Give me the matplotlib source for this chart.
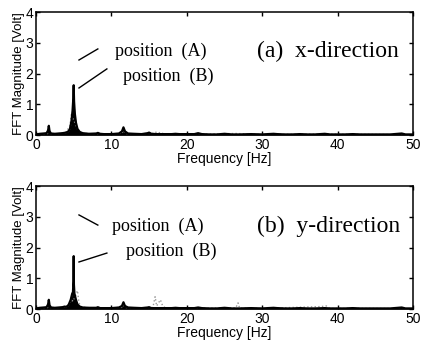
import numpy as np
import matplotlib.pyplot as plt

# FFT spectra: position (B) black, position (A) grey dotted
fx_b = [0, 0.5, 1.0, 1.4, 1.6, 1.7, 1.8, 2.0, 2.5, 3.0, 3.5, 4.0, 4.3, 4.5, 4.7, 4.85,
        4.95, 5.0, 5.05, 5.15, 5.3, 5.5, 5.8, 6.2, 7.0, 8.0, 8.2, 8.5, 9.0, 10.0, 10.5,
        11.0, 11.4, 11.6, 11.8, 12.2, 13.0, 14.0, 14.8, 15.0, 15.3, 16.0, 17.0, 18.0,
        18.5, 19.0, 20.0, 21.0, 21.5, 22.0, 23.0, 24.0, 25.0, 26.0, 27.0, 28.5, 30.0,
        31.5, 32.0, 33.0, 34.0, 35.0, 36.0, 37.0, 38.3, 39.0, 40.0, 41.0, 42.0, 43.0,
        44.0, 45.0, 46.0, 47.0, 48.5, 49.0, 50.0]
mx_b = [0.02, 0.04, 0.05, 0.06, 0.15, 0.30, 0.12, 0.05, 0.04, 0.05, 0.06, 0.08, 0.12,
        0.20, 0.45, 0.80, 1.20, 1.62, 1.10, 0.70, 0.40, 0.20, 0.10, 0.06, 0.04, 0.05,
        0.07, 0.04, 0.03, 0.03, 0.04, 0.05, 0.12, 0.25, 0.12, 0.05, 0.04, 0.03, 0.06,
        0.08, 0.04, 0.03, 0.03, 0.03, 0.04, 0.03, 0.03, 0.03, 0.06, 0.03, 0.02, 0.02,
        0.04, 0.02, 0.02, 0.03, 0.02, 0.04, 0.03, 0.02, 0.02, 0.03, 0.02, 0.02, 0.04,
        0.02, 0.02, 0.02, 0.03, 0.02, 0.02, 0.02, 0.02, 0.02, 0.05, 0.02, 0.02]

fx_a = [0, 1.5, 1.7, 2.0, 3.0, 4.0, 4.5, 4.7, 4.8, 5.0, 5.3, 5.6, 6.0, 8.0, 11.4, 11.6,
        12.0, 15.5, 15.8, 16.2, 16.5, 17.0, 20.0, 26.5, 30.0, 38.0, 45.0, 50.0]
mx_a = [0.01, 0.03, 0.20, 0.03, 0.04, 0.10, 0.30, 0.70, 0.55, 0.50, 0.30, 0.15, 0.06,
        0.03, 0.05, 0.15, 0.03, 0.05, 0.10, 0.06, 0.09, 0.03, 0.02, 0.05, 0.02, 0.03,
        0.02, 0.01]

fy_b = [0, 0.5, 1.0, 1.4, 1.6, 1.7, 1.8, 2.0, 2.5, 3.0, 3.5, 3.8, 4.0, 4.3, 4.6, 4.8,
        4.9, 4.97, 5.0, 5.03, 5.1, 5.3, 5.5, 5.8, 6.2, 7.0, 8.0, 8.2, 8.5, 9.0, 10.0,
        10.5, 11.0, 11.4, 11.6, 11.8, 12.2, 13.0, 14.0, 14.8, 15.0, 15.3, 16.0, 17.0,
        18.0, 18.5, 19.0, 20.0, 21.0, 21.5, 22.0, 23.0, 24.0, 25.0, 26.0, 27.0, 28.5,
        30.0, 31.5, 32.0, 33.0, 34.0, 35.0, 36.0, 37.0, 38.3, 39.0, 40.0, 41.0, 42.0,
        43.0, 44.0, 45.0, 46.0, 47.0, 48.5, 49.0, 50.0]
my_b = [0.02, 0.04, 0.05, 0.06, 0.15, 0.30, 0.12, 0.05, 0.04, 0.05, 0.06, 0.08, 0.07,
        0.12, 0.30, 0.50, 0.55, 0.90, 1.72, 0.80, 0.50, 0.30, 0.15, 0.08, 0.05, 0.04,
        0.04, 0.06, 0.03, 0.03, 0.03, 0.04, 0.05, 0.10, 0.22, 0.10, 0.05, 0.04, 0.03,
        0.05, 0.06, 0.03, 0.03, 0.03, 0.03, 0.04, 0.03, 0.03, 0.03, 0.05, 0.03, 0.02,
        0.02, 0.04, 0.02, 0.02, 0.03, 0.02, 0.04, 0.03, 0.02, 0.02, 0.03, 0.02, 0.02,
        0.03, 0.02, 0.02, 0.02, 0.03, 0.02, 0.02, 0.02, 0.02, 0.02, 0.05, 0.02, 0.02]

fy_a = [0, 1.5, 1.7, 2.0, 3.0, 4.0, 4.5, 4.7, 4.9, 5.2, 5.5, 5.7, 6.0, 8.0, 11.4, 11.6,
        12.0, 15.5, 15.8, 16.0, 16.5, 16.8, 17.2, 20.0, 26.5, 26.8, 27.0, 30.0, 37.8,
        38.5, 39.0, 45.0, 50.0]
my_a = [0.01, 0.03, 0.15, 0.03, 0.04, 0.08, 0.20, 0.30, 0.25, 0.40, 0.60, 0.20, 0.06,
        0.03, 0.05, 0.12, 0.03, 0.05, 0.40, 0.10, 0.30, 0.10, 0.03, 0.02, 0.04, 0.20,
        0.03, 0.02, 0.08, 0.10, 0.02, 0.02, 0.01]

panels = [
    (fx_a, mx_a, fx_b, mx_b, "(a)  x-direction",
     [(5.7, 2.44), (8.2, 2.8)], [(5.7, 1.53), (9.4, 2.15)], (10.5, 2.73), (11.5, 1.92)),
    (fy_a, my_a, fy_b, my_b, "(b)  y-direction",
     [(5.7, 3.06), (8.2, 2.73)], [(5.7, 1.53), (9.4, 1.82)], (10.1, 2.70), (11.9, 1.89)),
]

fig = plt.figure(figsize=(4.21, 3.48), dpi=100)
rects = [[0.0855, 0.612, 0.8955, 0.3534], [0.0855, 0.112, 0.8955, 0.3534]]

for rect, (fa, ma, fb, mb, title, la, lb, pa, pb) in zip(rects, panels):
    ax = fig.add_axes(rect)
    ax.plot(fa, ma, color="0.6", lw=1.0, ls=":")
    ax.fill_between(fb, mb, color="black", lw=0)
    ax.plot(fb, mb, color="black", lw=1.6)
    ax.set_xlim(0, 50)
    ax.set_ylim(0, 4)
    ax.set_xticks([0, 10, 20, 30, 40, 50])
    ax.set_yticks([0, 1, 2, 3, 4])
    for sp in ax.spines.values():
        sp.set_linewidth(1.1)
    ax.tick_params(direction="in", top=True, right=True, length=3, width=1.0,
                   labelsize=10, pad=2)
    for lab in ax.get_xticklabels() + ax.get_yticklabels():
        lab.set_family("Liberation Sans")
    ax.set_xlabel("Frequency [Hz]", family="Liberation Sans", fontsize=10, labelpad=0)
    ax.set_ylabel("FFT Magnitude [Volt]", family="Liberation Sans", fontsize=9.5,
                  labelpad=0)
    ax.plot([la[0][0], la[1][0]], [la[0][1], la[1][1]], color="black", lw=1.0)
    ax.plot([lb[0][0], lb[1][0]], [lb[0][1], lb[1][1]], color="black", lw=1.0)
    ax.text(pa[0], pa[1], "position  (A)", family="Liberation Serif", fontsize=13,
            va="center")
    ax.text(pb[0], pb[1], "position  (B)", family="Liberation Serif", fontsize=13,
            va="center")
    ax.text(29.3, pa[1], title, family="Liberation Serif", fontsize=17, va="center")

plt.savefig("out.png", dpi=100)
